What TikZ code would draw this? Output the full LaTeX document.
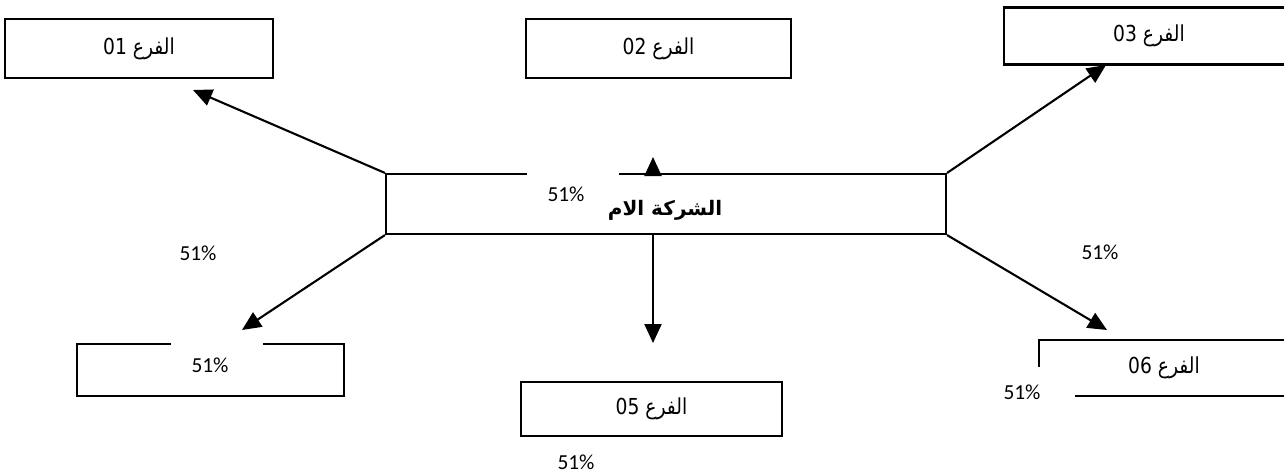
\documentclass[tikz,border=0pt]{standalone}
\usepackage{fontspec}
\setmainfont{Carlito}
\newfontfamily\arfont[Script=Arabic, FakeStretch=0.85]{DejaVu Sans}
\newfontfamily\arboldfont[Script=Arabic]{DejaVu Sans Bold}
\TeXXeTstate=1
\usetikzlibrary{arrows.meta}

\tikzset{
  box/.style={draw, line width=2.1pt, inner sep=0pt,
    font=\arfont\fontsize{22}{26}\selectfont},
  parentbox/.style={draw, line width=2.1pt, inner sep=0pt},
  title/.style={inner sep=0pt, font=\arboldfont\fontsize{20}{24}\selectfont},
  arr/.style={line width=2.1pt, -{Triangle[length=19pt,width=17pt]}},
  pct/.style={fill=white, inner xsep=21pt, inner ysep=0pt,
    text width=50pt, align=left, minimum height=50pt,
    font=\fontsize{21.4}{25}\selectfont},
}

\begin{document}
\begin{tikzpicture}[x=1pt, y=-1pt]
  \useasboundingbox (0,0) rectangle (1284,476);
  \clip (0,0) rectangle (1284,476);

  % parent company
  \node[parentbox, minimum width=560pt, minimum height=60pt] (parent) at (666,204) {};

  % subsidiaries
  \node[box, minimum width=268pt, minimum height=59pt] (b1) at (139,48.5)
    {\beginR الفرع \beginL 01\endL\endR};
  \node[box, minimum width=265pt, minimum height=59pt] (b2) at (658.5,48.5)
    {\beginR الفرع \beginL 02\endL\endR};
  \node[box, minimum width=290pt, minimum height=57pt] (b3) at (1149,36)
    {\beginR الفرع \beginL 03\endL\endR};
  \node[box, minimum width=267pt, minimum height=52pt] (b4) at (210.5,370) {};
  \node[box, minimum width=261pt, minimum height=54pt] (b5) at (651.5,409)
    {\beginR الفرع \beginL 05\endL\endR};
  \node[box, minimum width=250pt, minimum height=56pt] (b6) at (1164,368)
    {\beginR الفرع \beginL 06\endL\endR};

  % arrow tips
  \coordinate (t1) at (193,90);
  \coordinate (t3) at (1106,65);
  \coordinate (t4) at (242,330);
  \coordinate (t5) at (653,343);
  \coordinate (t6) at (1107,330);
  \coordinate (up) at (653,157);
  \coordinate (top) at (653,174);
  \coordinate (bot) at (653,234);

  % connectors
  \draw[arr] (parent.north west) -- (t1);
  \draw[arr] (parent.north east) -- (t3);
  \draw[arr] (parent.south west) -- (t4);
  \draw[arr] (parent.south east) -- (t6);
  \draw[arr] (bot) -- (t5);
  \draw[arr] (top) -- (up);

  % shares
  \node[pct] (p0) at (572.5,194) {51\%};
  \node[pct] (p1) at (204.5,253) {51\%};
  \node[pct] (p3) at (1106.5,252) {51\%};
  \node[pct] (p4) at (216.5,365) {51\%};
  \node[pct] (p5) at (582.5,462) {51\%};
  \node[pct] (p6) at (1028.5,392) {51\%};

  % parent company name
  \node[title] (name) at (665,210) {\beginR الشركة الام\endR};
\end{tikzpicture}
\end{document}
